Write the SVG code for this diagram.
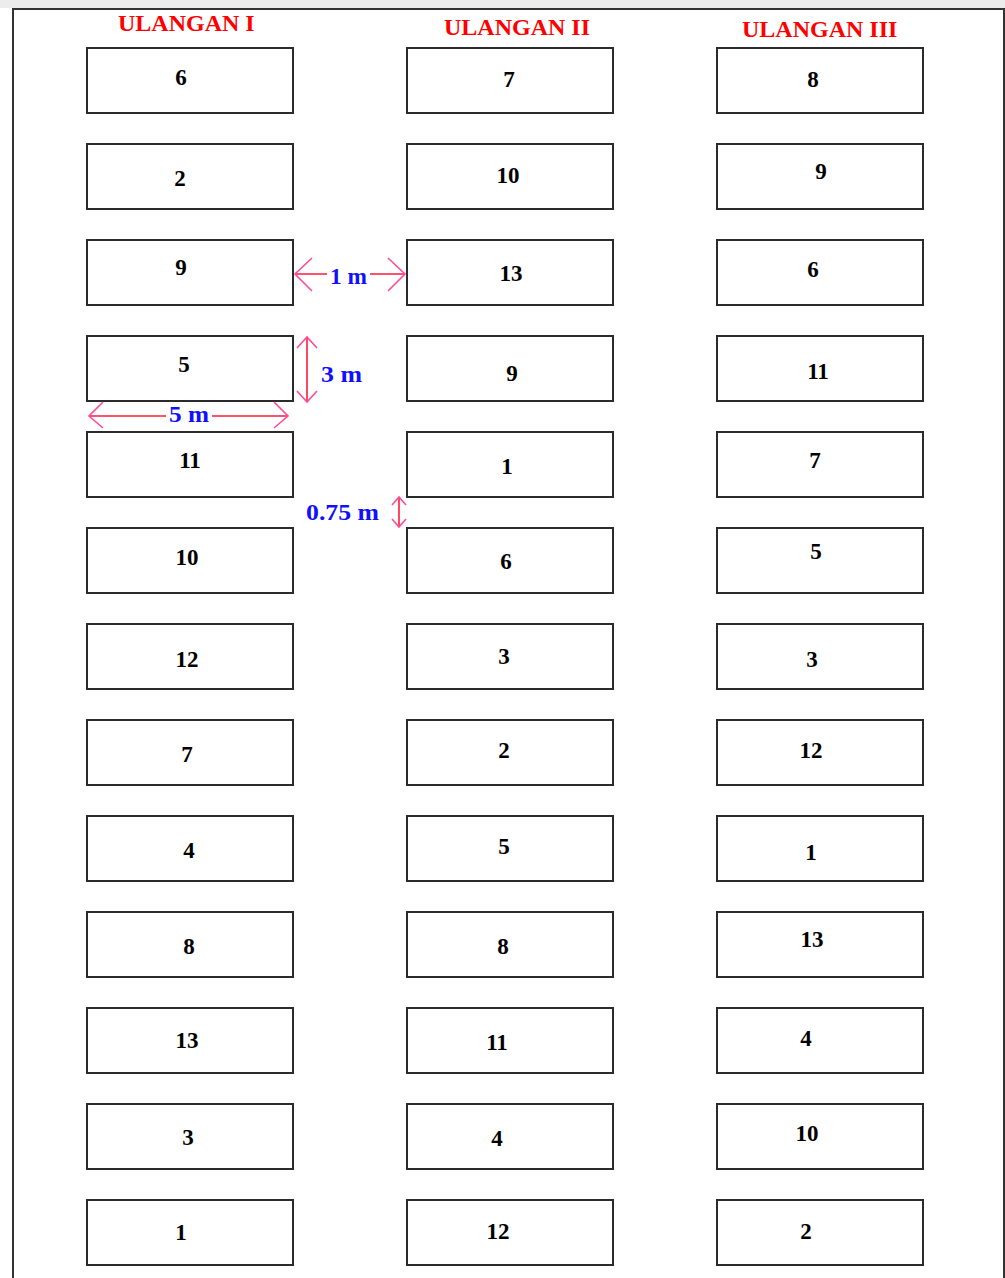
<svg xmlns="http://www.w3.org/2000/svg" width="1005" height="1278" viewBox="0 0 1005 1278">
<style>
.plot{fill:#fff;stroke:#2b2b2b;stroke-width:2}
.num{font-family:"Liberation Serif","Times New Roman",serif;font-weight:bold;font-size:23px;fill:#000;text-anchor:middle}
.hdr{font-family:"Liberation Serif","Times New Roman",serif;font-weight:bold;font-size:24px;fill:#ff0000}
.dim{font-family:"Liberation Serif","Times New Roman",serif;font-weight:bold;font-size:23px;fill:#1010ff}
.dl{stroke:#ff1a3c;stroke-width:1.6;fill:none}
.dh{stroke:#ff4a95;stroke-width:1.6;fill:none}
</style>
<rect x="0" y="0" width="1005" height="1278" fill="#fff"/>
<rect x="0" y="0" width="1005" height="8" fill="#ececec"/>
<path d="M13,1280 V9 H1004 V1280" fill="none" stroke="#333" stroke-width="2"/>
<g id="headers">
<text class="hdr" x="118" y="31">ULANGAN I</text>
<text class="hdr" x="444" y="35">ULANGAN II</text>
<text class="hdr" x="742" y="37">ULANGAN III</text>
</g>
<g id="col1">
<g id="c1r1"><rect class="plot" x="87" y="48" width="206" height="65"/><text class="num" x="181" y="85">6</text></g>
<g id="c1r2"><rect class="plot" x="87" y="144" width="206" height="65"/><text class="num" x="180" y="186">2</text></g>
<g id="c1r3"><rect class="plot" x="87" y="240" width="206" height="65"/><text class="num" x="181" y="275">9</text></g>
<g id="c1r4"><rect class="plot" x="87" y="336" width="206" height="65"/><text class="num" x="184" y="372">5</text></g>
<g id="c1r5"><rect class="plot" x="87" y="432" width="206" height="65"/><text class="num" x="190" y="468">11</text></g>
<g id="c1r6"><rect class="plot" x="87" y="528" width="206" height="65"/><text class="num" x="187" y="565">10</text></g>
<g id="c1r7"><rect class="plot" x="87" y="624" width="206" height="65"/><text class="num" x="187" y="667">12</text></g>
<g id="c1r8"><rect class="plot" x="87" y="720" width="206" height="65"/><text class="num" x="187" y="762">7</text></g>
<g id="c1r9"><rect class="plot" x="87" y="816" width="206" height="65"/><text class="num" x="189" y="858">4</text></g>
<g id="c1r10"><rect class="plot" x="87" y="912" width="206" height="65"/><text class="num" x="189" y="954">8</text></g>
<g id="c1r11"><rect class="plot" x="87" y="1008" width="206" height="65"/><text class="num" x="187" y="1048">13</text></g>
<g id="c1r12"><rect class="plot" x="87" y="1104" width="206" height="65"/><text class="num" x="188" y="1145">3</text></g>
<g id="c1r13"><rect class="plot" x="87" y="1200" width="206" height="65"/><text class="num" x="181" y="1240">1</text></g>
</g>
<g id="col2">
<g id="c2r1"><rect class="plot" x="407" y="48" width="206" height="65"/><text class="num" x="509" y="87">7</text></g>
<g id="c2r2"><rect class="plot" x="407" y="144" width="206" height="65"/><text class="num" x="508" y="183">10</text></g>
<g id="c2r3"><rect class="plot" x="407" y="240" width="206" height="65"/><text class="num" x="511" y="281">13</text></g>
<g id="c2r4"><rect class="plot" x="407" y="336" width="206" height="65"/><text class="num" x="512" y="381">9</text></g>
<g id="c2r5"><rect class="plot" x="407" y="432" width="206" height="65"/><text class="num" x="507" y="474">1</text></g>
<g id="c2r6"><rect class="plot" x="407" y="528" width="206" height="65"/><text class="num" x="506" y="569">6</text></g>
<g id="c2r7"><rect class="plot" x="407" y="624" width="206" height="65"/><text class="num" x="504" y="664">3</text></g>
<g id="c2r8"><rect class="plot" x="407" y="720" width="206" height="65"/><text class="num" x="504" y="758">2</text></g>
<g id="c2r9"><rect class="plot" x="407" y="816" width="206" height="65"/><text class="num" x="504" y="854">5</text></g>
<g id="c2r10"><rect class="plot" x="407" y="912" width="206" height="65"/><text class="num" x="503" y="954">8</text></g>
<g id="c2r11"><rect class="plot" x="407" y="1008" width="206" height="65"/><text class="num" x="497" y="1050">11</text></g>
<g id="c2r12"><rect class="plot" x="407" y="1104" width="206" height="65"/><text class="num" x="497" y="1146">4</text></g>
<g id="c2r13"><rect class="plot" x="407" y="1200" width="206" height="65"/><text class="num" x="498" y="1239">12</text></g>
</g>
<g id="col3">
<g id="c3r1"><rect class="plot" x="717" y="48" width="206" height="65"/><text class="num" x="813" y="87">8</text></g>
<g id="c3r2"><rect class="plot" x="717" y="144" width="206" height="65"/><text class="num" x="821" y="179">9</text></g>
<g id="c3r3"><rect class="plot" x="717" y="240" width="206" height="65"/><text class="num" x="813" y="277">6</text></g>
<g id="c3r4"><rect class="plot" x="717" y="336" width="206" height="65"/><text class="num" x="818" y="379">11</text></g>
<g id="c3r5"><rect class="plot" x="717" y="432" width="206" height="65"/><text class="num" x="815" y="468">7</text></g>
<g id="c3r6"><rect class="plot" x="717" y="528" width="206" height="65"/><text class="num" x="816" y="559">5</text></g>
<g id="c3r7"><rect class="plot" x="717" y="624" width="206" height="65"/><text class="num" x="812" y="667">3</text></g>
<g id="c3r8"><rect class="plot" x="717" y="720" width="206" height="65"/><text class="num" x="811" y="758">12</text></g>
<g id="c3r9"><rect class="plot" x="717" y="816" width="206" height="65"/><text class="num" x="811" y="860">1</text></g>
<g id="c3r10"><rect class="plot" x="717" y="912" width="206" height="65"/><text class="num" x="812" y="947">13</text></g>
<g id="c3r11"><rect class="plot" x="717" y="1008" width="206" height="65"/><text class="num" x="806" y="1046">4</text></g>
<g id="c3r12"><rect class="plot" x="717" y="1104" width="206" height="65"/><text class="num" x="807" y="1141">10</text></g>
<g id="c3r13"><rect class="plot" x="717" y="1200" width="206" height="65"/><text class="num" x="806" y="1239">2</text></g>
</g>
<g id="connectors">
<path class="dl" d="M295,274 H327 M370,274 H405"/>
<path class="dh" d="M312,258 L295,274 L312,291 M388,258 L405,274 L388,291"/>
<text class="dim" x="330" y="284" textLength="37" lengthAdjust="spacingAndGlyphs">1 m</text>
<path class="dl" d="M307,337 V402"/>
<path class="dh" d="M297,348 L307,337 L317,348 M297,391 L307,402 L317,391"/>
<text class="dim" x="321" y="382" textLength="41" lengthAdjust="spacingAndGlyphs">3 m</text>
<path class="dl" d="M89,416 H166 M212,416 H288"/>
<path class="dh" d="M103,402 L89,416 L103,428 M274,402 L288,416 L274,428"/>
<text class="dim" x="169" y="422" textLength="40" lengthAdjust="spacingAndGlyphs">5 m</text>
<path class="dl" d="M399,497 V527"/>
<path class="dh" d="M392,505 L399,497 L406,505 M392,519 L399,527 L406,519"/>
<text class="dim" x="306" y="520" textLength="73" lengthAdjust="spacingAndGlyphs">0.75 m</text>
</g>
</svg>
